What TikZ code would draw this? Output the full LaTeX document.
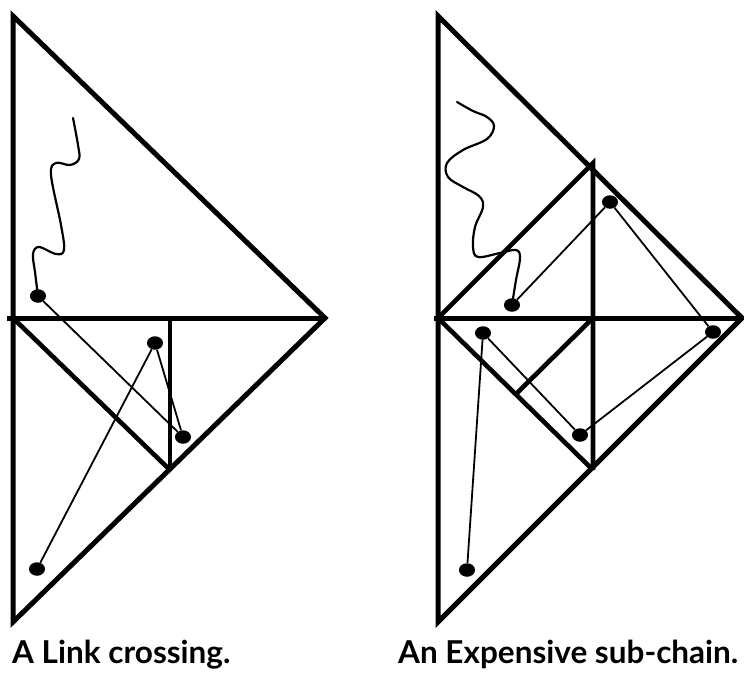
\documentclass[tikz,border=0pt]{standalone}
\usepackage{fontspec}
\setmainfont{Lato}
\usetikzlibrary{shapes.geometric}
\begin{document}
\begin{tikzpicture}[x=1pt,y=-1pt,
  frame/.style={line width=5pt, line join=miter},
  inner/.style={line width=4.6pt},
  link/.style={line width=1.8pt},
  wave/.style={line width=2.2pt, line cap=round},
  dot/.style={ellipse, fill=black, minimum width=16pt, minimum height=13.5pt, inner sep=0pt},
  captext/.style={anchor=base west, inner sep=0pt, font=\fontsize{31.5}{34}\selectfont\bfseries}]
\useasboundingbox (0,0) rectangle (744,673);
% ---------- left figure ----------
\coordinate (LT) at (13,16);
\coordinate (LR) at (325,318);
\coordinate (LB) at (13,622);
\coordinate (LL) at (7,318);
\coordinate (LM) at (13,318);
\coordinate (LV) at (170,318);
\coordinate (LC) at (170,470);
\draw[frame] (LT) -- (LR) -- (LB) -- cycle;
\draw[frame] (LL) -- (LR);
\draw[inner] (LM) -- (LC);
\draw[inner] (LV) -- (LC);
\node[dot] (p1) at (38,296) {};
\node[dot] (p2) at (155,343) {};
\node[dot] (p3) at (183,437) {};
\node[dot] (p4) at (37,569) {};
\draw[link] (p1) -- (p3);
\draw[link] (p3) -- (p2);
\draw[link] (p2) -- (p4);
\draw[wave] plot[smooth, tension=0.6] coordinates {(38,296) (35,272) (33,254) (39,247) (56,254) (64,250) (61,225) (51,175) (56,163) (70,165) (79,159) (78,145) (73,118)};
\node[captext] (c1) at (12,663) {A Link crossing.};
% ---------- right figure ----------
\coordinate (RT) at (438,16);
\coordinate (RR) at (742,318);
\coordinate (RB) at (438,622);
\coordinate (RL) at (434,318);
\coordinate (RM) at (438,318);
\coordinate (DT) at (593,163);
\coordinate (DB) at (593,470);
\coordinate (DC) at (593,318);
\coordinate (DH) at (516,394);
\draw[frame] (RT) -- (RR) -- (RB) -- cycle;
\draw[frame] (RL) -- (RR);
\draw[inner] (RM) -- (DT) -- (DB);
\draw[inner] (RM) -- (DB);
\draw[inner] (DC) -- (DH);
\node[dot] (q1) at (512,305) {};
\node[dot] (q2) at (610,202) {};
\node[dot] (q3) at (713,332) {};
\node[dot] (q4) at (580,435) {};
\node[dot] (q5) at (483,333) {};
\node[dot] (q6) at (467,570) {};
\draw[link] (q1) -- (q2);
\draw[link] (q2) -- (q3);
\draw[link] (q3) -- (q4);
\draw[link] (q4) -- (q5);
\draw[link] (q5) -- (q6);
\draw[wave] plot[smooth, tension=0.6] coordinates {(512,305) (516,280) (520,258) (516,250) (500,253) (478,257) (473,247) (475,227) (483,207) (479,196) (463,187) (448,177) (447,163) (463,150) (487,139) (494,126) (487,117) (473,111) (457,102)};
\node[captext] (c2) at (398,663) {An Expensive sub-chain.};
\end{tikzpicture}
\end{document}
